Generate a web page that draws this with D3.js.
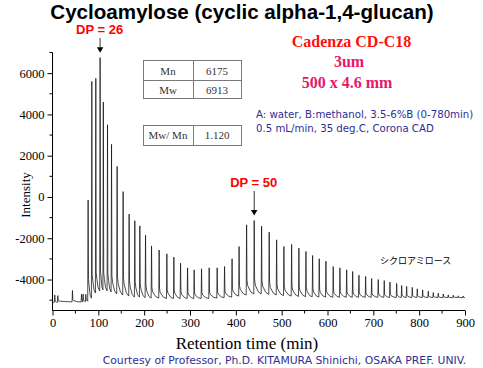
<!DOCTYPE html>
<html><head><meta charset="utf-8">
<script src="https://cdn.jsdelivr.net/npm/d3@7"></script>
<style>
html,body{margin:0;padding:0;background:#fff;}
svg{display:block;}
</style></head>
<body>
<script>
// ---------------- data ----------------
const xTicks = [0,100,200,300,400,500,600,700,800,900];
const yTicks = [-4000,-2000,0,2000,4000,6000];
// peak retention times (min)
const peakTimes = [5,11.6,43.6,63.3,66.8,72.7,
  77.7,85.8,94.5,103.9,110.9,120.0,128.8,141.0,154.1,167.2,179.6,190.6,203.0,216.1,
  232.7,249.5,264.8,279.4,294.7,309.1,325.2,341.8,359.3,375.4,391.8,407.1,423.5,440.1,
  456.2,472.8,489.0,504.9,521.7,537.6,553.0,567.5,582.0,596.6,612.5,627.1,641.8,654.9,
  668.6,683.2,696.3,710.7,723.8,736.3,750.9,761.8,772.7,785.0,795.9,807.6,819.9,830.8,
  841.7,852.6,863.5,874.4,885.3,896.2];
// peak apex intensities
const peakHeights = [-4750,-4780,-4530,-4720,-4700,-4720,
  -150,5600,5750,6750,4600,3500,2550,1480,260,-830,-1150,-1400,-1850,-2370,
  -2570,-2755,-2916,-3208,-3433,-3530,-3480,-3433,-3433,-3368,-2995,-2400,-1350,-1140,
  -1415,-1705,-2075,-2400,-2300,-2480,-2640,-2835,-2995,-3110,-3370,-3430,-3530,-3610,
  -3790,-3850,-3950,-4000,-4050,-4120,-4190,-4290,-4330,-4380,-4450,-4500,-4560,-4630,
  -4660,-4700,-4740,-4760,-4790,-4800];
// baseline level just before each peak
const valleyLevels = [-5100,-5110,-5080,-5090,-5080,-5070,
  -5050,-4900,-4650,-4550,-4500,-4550,-4600,-4700,-4750,-4800,-4850,-4850,-4880,-4900,
  -4900,-4920,-4920,-4920,-4920,-4920,-4920,-4920,-4900,-4880,-4850,-4800,-4750,-4700,
  -4700,-4720,-4750,-4780,-4800,-4820,-4830,-4840,-4850,-4850,-4860,-4860,-4860,-4860,
  -4860,-4860,-4860,-4860,-4860,-4870,-4870,-4870,-4870,-4870,-4870,-4870,-4870,-4870,
  -4870,-4880,-4870,-4880,-4870,-4880];
const traceStart = [1,-5100];
const traceEnd = [900,-4880];
const tableLabels = ["Mn","Mw"];
const tableValues = ["6175","6913"];
const ratioLabel = "Mw/ Mn";
const ratioValue = "1.120";
const dpMarks = [{label:"DP = 26", time:103.9, value:6750}, {label:"DP = 50", time:440.1, value:-1140}];

// ---------------- layout ----------------
const W = 483, H = 368;
const svg = d3.select("body").append("svg").attr("width",W).attr("height",H);
const x = d3.scaleLinear().domain([0,900]).range([52.5,465]);
const y = d3.scaleLinear().domain([-5500,7000]).range([310.5,52.5]);

// trace points
const pts = [traceStart];
for (let i=0;i<peakTimes.length;i++){
  const t = peakTimes[i], h = peakHeights[i], v = valleyLevels[i];
  const vn = i+1<valleyLevels.length ? valleyLevels[i+1] : traceEnd[1];
  const amp = h - vn;
  pts.push([t-0.9, v]);
  pts.push([t, h]);
  pts.push([t+0.8, vn + Math.min(0.2*amp, 900)]);
  pts.push([t+2.4, vn + Math.min(0.12*amp, 550)]);
  const tn = i+1<peakTimes.length ? peakTimes[i+1] : traceEnd[0];
  if (tn - t > 6) pts.push([t+(tn-t)*0.55, vn + Math.min(0.03*amp,150)]);
}
pts.push(traceEnd);

svg.append("clipPath").attr("id","clip").append("rect")
  .attr("x",52.5).attr("y",40).attr("width",415).attr("height",271);
svg.append("path").datum(pts)
  .attr("clip-path","url(#clip)")
  .attr("fill","none").attr("stroke","#111").attr("stroke-width",0.75)
  .attr("stroke-linejoin","miter")
  .attr("d", d3.line().x(d=>x(d[0])).y(d=>y(d[1])));

// axes
const serif = "'Liberation Serif','Times New Roman',serif";
const sans = "'Liberation Sans',Arial,sans-serif";
const wide = "'DejaVu Sans',Verdana,sans-serif";
const xAxis = d3.axisBottom(x).tickValues(xTicks).tickSize(5).tickPadding(3).tickFormat(d3.format("d"));
const gx = svg.append("g").attr("transform","translate(0,310.5)").call(xAxis);
gx.select(".domain").attr("d","M52.5,0H465");
const xMinor = d3.range(50,900,100);
gx.selectAll(".minor").data(xMinor).enter().append("line").attr("class","minor")
  .attr("x1",d=>x(d)).attr("x2",d=>x(d)).attr("y1",0).attr("y2",3).attr("stroke","#000");
gx.selectAll("text").style("font-family",serif).style("font-size","12.5px").attr("fill","#000");

const yAxis = d3.axisLeft(y).tickValues(yTicks).tickSize(5).tickPadding(3).tickFormat(d=>d3.format("d")(d).replace("−","-"));
const gy = svg.append("g").attr("transform","translate(52.5,0)").call(yAxis);
gy.select(".domain").attr("d","M0,52.5V310.5");
const yMinor = d3.range(-5000,7001,2000);
gy.selectAll(".minor").data(yMinor).enter().append("line").attr("class","minor")
  .attr("x1",-3).attr("x2",0).attr("y1",d=>y(d)).attr("y2",d=>y(d)).attr("stroke","#000");
gy.selectAll("text").style("font-family",serif).style("font-size","12.5px").attr("fill","#000");

// axis titles
svg.append("text").attr("x",247).attr("y",349).attr("text-anchor","middle")
  .style("font-family",serif).style("font-size","17px").text("Retention time (min)");
svg.append("text").attr("transform","translate(29.5,195) rotate(-90)").attr("text-anchor","middle")
  .style("font-family",serif).style("font-size","13px").text("Intensity");

// title
svg.append("text").attr("x",242).attr("y",19).attr("text-anchor","middle")
  .style("font-family",sans).style("font-weight","bold").style("font-size","20.6px")
  .text("Cycloamylose (cyclic alpha-1,4-glucan)");

// DP labels and arrows
const dpLabelY = [34,187];
dpMarks.forEach((m,i)=>{
  const px = x(m.time);
  const ly = dpLabelY[i];
  svg.append("text").attr("x",px-0.5).attr("y",ly).attr("text-anchor","middle")
    .style("font-family",sans).style("font-weight","bold").style("font-size","13px")
    .attr("fill","#ff0000").text(m.label);
  const tip = y(m.value) - 5;
  svg.append("line").attr("x1",px).attr("x2",px).attr("y1",ly+4).attr("y2",tip-5)
    .attr("stroke","#000").attr("stroke-width",0.8);
  svg.append("path").attr("d",`M${px-3.2},${tip-5.5}L${px+3.2},${tip-5.5}L${px},${tip}Z`).attr("fill","#000");
});

// column info
svg.append("text").attr("x",351.5).attr("y",46.5).attr("text-anchor","middle")
  .style("font-family",serif).style("font-weight","bold").style("font-size","16px")
  .attr("fill","#ff1010").text("Cadenza CD-C18");
svg.append("text").attr("x",349).attr("y",67).attr("text-anchor","middle")
  .style("font-family",serif).style("font-weight","bold").style("font-size","16px")
  .attr("fill","#e8186a").text("3um");
svg.append("text").attr("x",347).attr("y",87.5).attr("text-anchor","middle")
  .style("font-family",serif).style("font-weight","bold").style("font-size","16px")
  .attr("fill","#e8186a").text("500 x 4.6 mm");
const blue = "#2e2e96";
svg.append("text").attr("x",256).attr("y",118).style("font-family",wide).style("font-size","10.2px")
  .attr("fill",blue).text("A: water, B:methanol, 3.5-6%B (0-780min)");
svg.append("text").attr("x",256).attr("y",131.5).style("font-family",wide).style("font-size","10.2px")
  .attr("fill",blue).text("0.5 mL/min, 35 deg.C, Corona CAD");
svg.append("text").attr("x",102.7).attr("y",364).style("font-family",wide).style("font-size","10.8px")
  .attr("fill",blue).text("Courtesy of Professor, Ph.D. KITAMURA Shinichi, OSAKA PREF. UNIV.");
svg.append("text").attr("x",380).attr("y",264).style("font-family","'Noto Sans CJK JP',sans-serif")
  .style("font-size","9px").attr("fill","#000").text("シクロアミロース");

// tables
const tbl = svg.append("g");
const tStroke = "#7a7a7a", tText = "#333";
const tFont = "11px";
tbl.append("rect").attr("x",143.5).attr("y",60.5).attr("width",98).attr("height",38)
  .attr("fill","#fff").attr("stroke",tStroke);
tbl.append("line").attr("x1",193.5).attr("x2",193.5).attr("y1",60.5).attr("y2",98.5).attr("stroke",tStroke);
tbl.append("line").attr("x1",143.5).attr("x2",241.5).attr("y1",80.5).attr("y2",80.5).attr("stroke",tStroke);
tableLabels.forEach((lab,i)=>{
  const ty = 75 + i*19;
  tbl.append("text").attr("x",168).attr("y",ty).attr("text-anchor","middle")
    .style("font-family",serif).style("font-size",tFont).attr("fill",tText).text(lab);
  tbl.append("text").attr("x",217).attr("y",ty).attr("text-anchor","middle")
    .style("font-family",serif).style("font-size",tFont).attr("fill",tText).text(tableValues[i]);
});
tbl.append("rect").attr("x",143.5).attr("y",125.5).attr("width",98).attr("height",20)
  .attr("fill","#fff").attr("stroke",tStroke);
tbl.append("line").attr("x1",193.5).attr("x2",193.5).attr("y1",125.5).attr("y2",145.5).attr("stroke",tStroke);
tbl.append("text").attr("x",168).attr("y",139).attr("text-anchor","middle")
  .style("font-family",serif).style("font-size",tFont).attr("fill",tText).text(ratioLabel);
tbl.append("text").attr("x",217).attr("y",139).attr("text-anchor","middle")
  .style("font-family",serif).style("font-size",tFont).attr("fill",tText).text(ratioValue);
</script>
</body></html>
